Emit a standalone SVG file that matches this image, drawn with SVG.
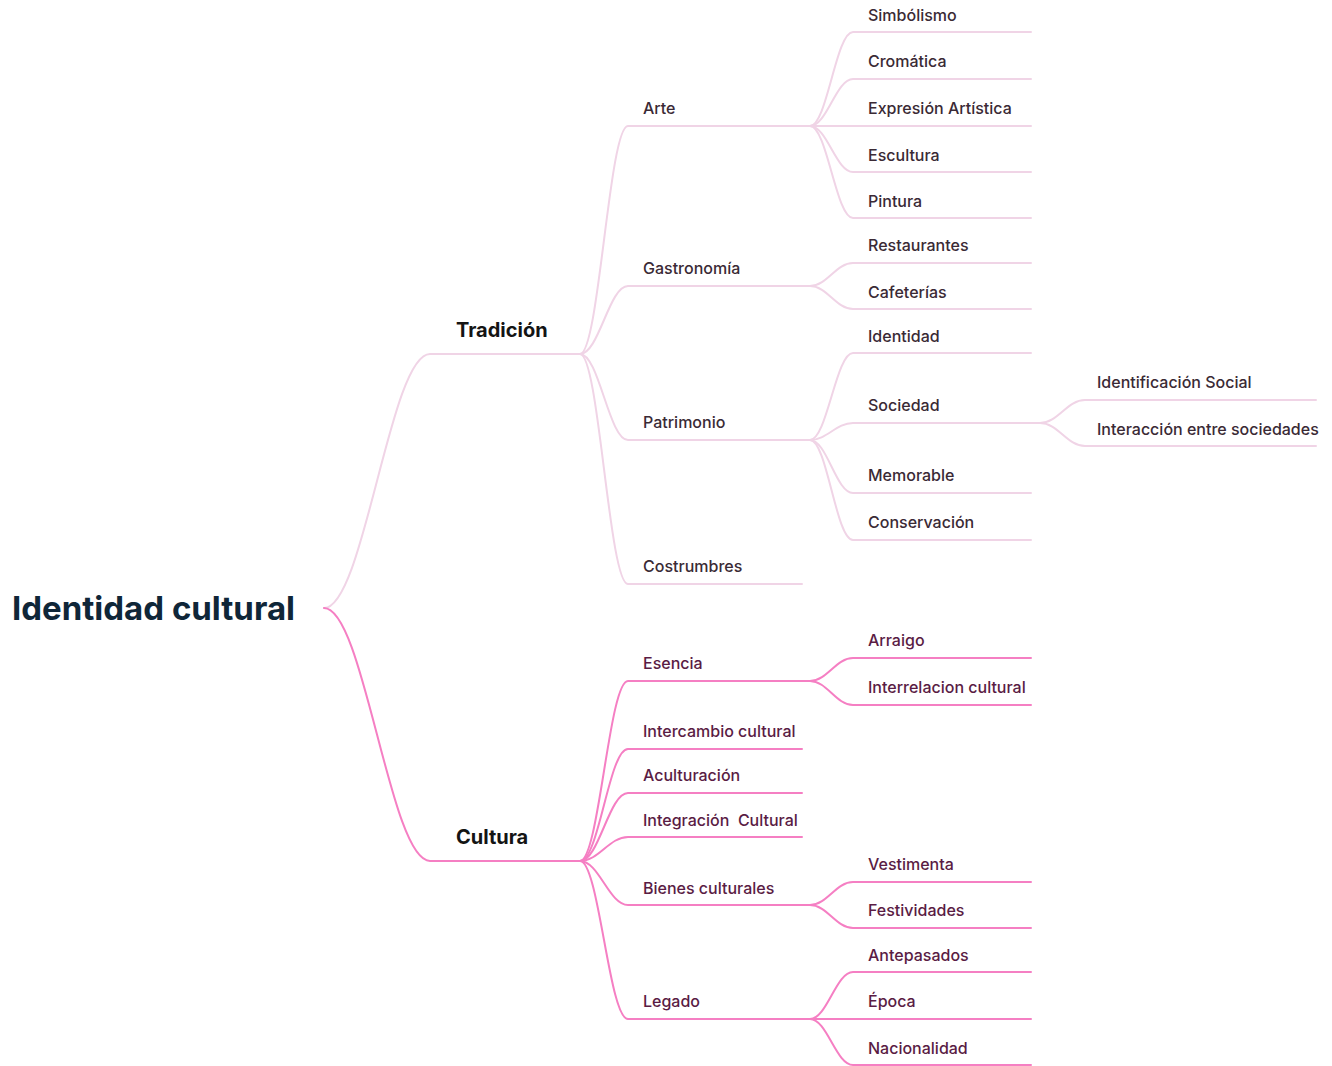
<svg xmlns="http://www.w3.org/2000/svg" width="1332" height="1066" viewBox="0 0 1332 1066">
<style>
  .bg { fill: #ffffff; }
  .ln { fill: none; stroke-width: 2; stroke-linecap: round; }
  .t1 { stroke: #f0d4e6; }
  .c1 { stroke: #f57fc3; }
  .lbl { font-family: Inter, "Open Sans", "Liberation Sans", sans-serif; font-size: 16px; font-weight: 500; }
  .lt { fill: #3a2a35; }
  .lc { fill: #5a1c44; }
  .main { font-family: Inter, "Open Sans", "Liberation Sans", sans-serif; font-size: 20px; font-weight: 700; fill: #141414; }
  .root { font-family: Inter, "Open Sans", "Liberation Sans", sans-serif; font-size: 33px; font-weight: 700; fill: #0f2638; }
</style>
<rect class="bg" x="0" y="0" width="1332" height="1066"/>
<g id="connectors">
  <g class="ln t1">
    <path d="M324,608 C364,608 390,354 430,354 L580,354"/>
    <path d="M580,354 C599,354 609,126 628,126 L810,126"/>
    <path d="M580,354 C599,354 609,286 628,286 L810,286"/>
    <path d="M580,354 C599,354 609,440 628,440 L810,440"/>
    <path d="M580,354 C599,354 609,584 628,584 L802,584"/>
    <path d="M810,126 C827,126 836,32 853,32 L1031,32"/>
    <path d="M810,126 C827,126 836,79 853,79 L1031,79"/>
    <path d="M810,126 L1031,126"/>
    <path d="M810,126 C827,126 836,172 853,172 L1031,172"/>
    <path d="M810,126 C827,126 836,218 853,218 L1031,218"/>
    <path d="M810,286 C827,286 836,263 853,263 L1031,263"/>
    <path d="M810,286 C827,286 836,309 853,309 L1031,309"/>
    <path d="M810,440 C827,440 836,353 853,353 L1031,353"/>
    <path d="M810,440 C827,440 836,423 853,423 L1040,423"/>
    <path d="M810,440 C827,440 836,493 853,493 L1031,493"/>
    <path d="M810,440 C827,440 836,540 853,540 L1031,540"/>
    <path d="M1040,423 C1058,423 1067,400 1085,400 L1316,400"/>
    <path d="M1040,423 C1058,423 1067,446 1085,446 L1316,446"/>
  </g>
  <g class="ln c1">
    <path d="M324,608 C364,608 390,861 430,861 L580,861"/>
    <path d="M580,861 C599,861 609,681 628,681 L810,681"/>
    <path d="M580,861 C599,861 609,749 628,749 L802,749"/>
    <path d="M580,861 C599,861 609,793 628,793 L802,793"/>
    <path d="M580,861 C599,861 609,837 628,837 L802,837"/>
    <path d="M580,861 C599,861 609,905 628,905 L810,905"/>
    <path d="M580,861 C599,861 609,1019 628,1019 L810,1019"/>
    <path d="M810,681 C827,681 836,658 853,658 L1031,658"/>
    <path d="M810,681 C827,681 836,705 853,705 L1031,705"/>
    <path d="M810,905 C827,905 836,882 853,882 L1031,882"/>
    <path d="M810,905 C827,905 836,928 853,928 L1031,928"/>
    <path d="M810,1019 C827,1019 836,972 853,972 L1031,972"/>
    <path d="M810,1019 L1031,1019"/>
    <path d="M810,1019 C827,1019 836,1065 853,1065 L1031,1065"/>
  </g>
</g>
<g id="root"><text class="root" x="12" y="620">Identidad cultural</text></g>
<g id="tradicion"><text class="main" x="456" y="337">Tradición</text></g>
<g id="cultura"><text class="main" x="456" y="844">Cultura</text></g>
<g id="arte"><text class="lbl lt" x="643" y="114">Arte</text></g>
<g id="gastronomia"><text class="lbl lt" x="643" y="274">Gastronomía</text></g>
<g id="patrimonio"><text class="lbl lt" x="643" y="428">Patrimonio</text></g>
<g id="costrumbres"><text class="lbl lt" x="643" y="572">Costrumbres</text></g>
<g id="simbolismo"><text class="lbl lt" x="868" y="21">Simbólismo</text></g>
<g id="cromatica"><text class="lbl lt" x="868" y="67">Cromática</text></g>
<g id="expresion"><text class="lbl lt" x="868" y="114">Expresión Artística</text></g>
<g id="escultura"><text class="lbl lt" x="868" y="161">Escultura</text></g>
<g id="pintura"><text class="lbl lt" x="868" y="207">Pintura</text></g>
<g id="restaurantes"><text class="lbl lt" x="868" y="251">Restaurantes</text></g>
<g id="cafeterias"><text class="lbl lt" x="868" y="298">Cafeterías</text></g>
<g id="identidad"><text class="lbl lt" x="868" y="342">Identidad</text></g>
<g id="sociedad"><text class="lbl lt" x="868" y="411">Sociedad</text></g>
<g id="memorable"><text class="lbl lt" x="868" y="481">Memorable</text></g>
<g id="conservacion"><text class="lbl lt" x="868" y="528">Conservación</text></g>
<g id="identificacion"><text class="lbl lt" x="1097" y="388">Identificación Social</text></g>
<g id="interaccion"><text class="lbl lt" x="1097" y="435">Interacción entre sociedades</text></g>
<g id="esencia"><text class="lbl lc" x="643" y="669">Esencia</text></g>
<g id="intercambio"><text class="lbl lc" x="643" y="737">Intercambio cultural</text></g>
<g id="aculturacion"><text class="lbl lc" x="643" y="781">Aculturación</text></g>
<g id="integracion"><text class="lbl lc" x="643" y="826" xml:space="preserve">Integración  Cultural</text></g>
<g id="bienes"><text class="lbl lc" x="643" y="894">Bienes culturales</text></g>
<g id="legado"><text class="lbl lc" x="643" y="1007">Legado</text></g>
<g id="arraigo"><text class="lbl lc" x="868" y="646">Arraigo</text></g>
<g id="interrelacion"><text class="lbl lc" x="868" y="693">Interrelacion cultural</text></g>
<g id="vestimenta"><text class="lbl lc" x="868" y="870">Vestimenta</text></g>
<g id="festividades"><text class="lbl lc" x="868" y="916">Festividades</text></g>
<g id="antepasados"><text class="lbl lc" x="868" y="961">Antepasados</text></g>
<g id="epoca"><text class="lbl lc" x="868" y="1007">Época</text></g>
<g id="nacionalidad"><text class="lbl lc" x="868" y="1054">Nacionalidad</text></g>
</svg>
